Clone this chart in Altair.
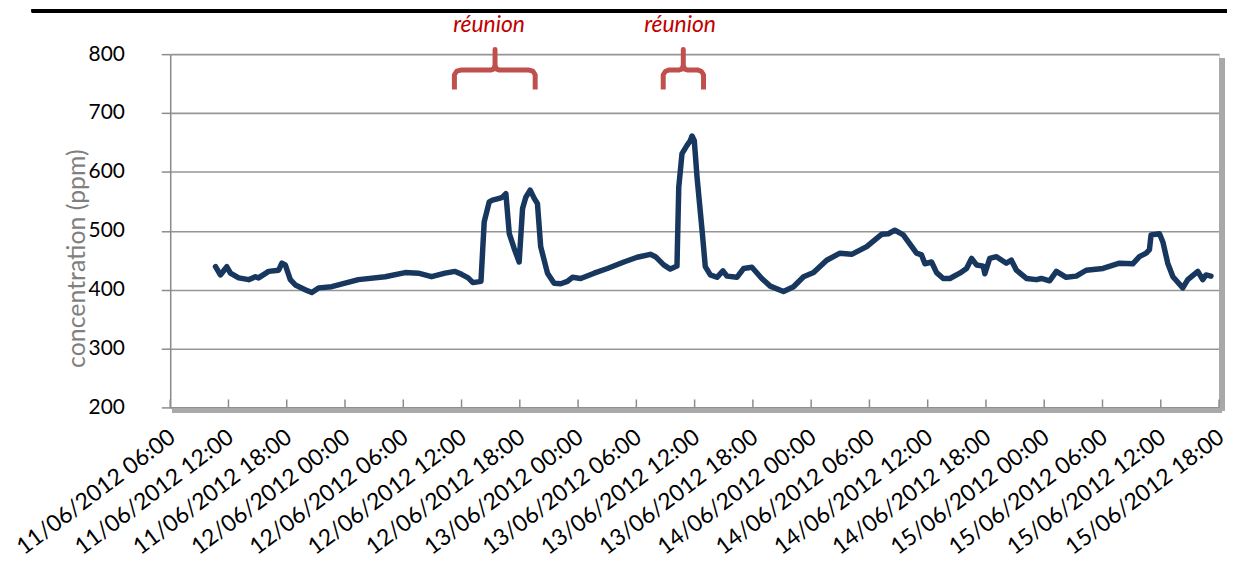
import altair as alt
import pandas as pd

# ---- CO2 concentration series ----
times = [
    "2012-06-11T10:40", "2012-06-11T11:10", "2012-06-11T11:50", "2012-06-11T12:12", "2012-06-11T13:03",
    "2012-06-11T14:05", "2012-06-11T14:46", "2012-06-11T15:06", "2012-06-11T16:08", "2012-06-11T17:10",
    "2012-06-11T17:30", "2012-06-11T17:51", "2012-06-11T18:22", "2012-06-11T18:53", "2012-06-11T19:54",
    "2012-06-11T20:35", "2012-06-11T21:17", "2012-06-11T22:38",
    "2012-06-12T01:23", "2012-06-12T04:08", "2012-06-12T06:11", "2012-06-12T07:33", "2012-06-12T08:55",
    "2012-06-12T10:18", "2012-06-12T11:20", "2012-06-12T12:00", "2012-06-12T12:41", "2012-06-12T13:10",
    "2012-06-12T14:00", "2012-06-12T14:20", "2012-06-12T14:51", "2012-06-12T15:11", "2012-06-12T15:53",
    "2012-06-12T16:13", "2012-06-12T16:34", "2012-06-12T16:55", "2012-06-12T17:25", "2012-06-12T17:56",
    "2012-06-12T18:17", "2012-06-12T18:37", "2012-06-12T19:04", "2012-06-12T19:29", "2012-06-12T19:49",
    "2012-06-12T20:09", "2012-06-12T20:51", "2012-06-12T21:32", "2012-06-12T22:13", "2012-06-12T22:54",
    "2012-06-12T23:25",
    "2012-06-13T00:16", "2012-06-13T01:39", "2012-06-13T03:01", "2012-06-13T04:43", "2012-06-13T06:05",
    "2012-06-13T07:27", "2012-06-13T07:58", "2012-06-13T08:49", "2012-06-13T09:30", "2012-06-13T10:11",
    "2012-06-13T10:22", "2012-06-13T10:42", "2012-06-13T11:13", "2012-06-13T11:33", "2012-06-13T11:44",
    "2012-06-13T11:58", "2012-06-13T12:15", "2012-06-13T12:46", "2012-06-13T13:06", "2012-06-13T13:37",
    "2012-06-13T14:18", "2012-06-13T14:55", "2012-06-13T15:20", "2012-06-13T16:21", "2012-06-13T17:03",
    "2012-06-13T17:54", "2012-06-13T18:55", "2012-06-13T19:47", "2012-06-13T21:09", "2012-06-13T22:11",
    "2012-06-13T23:13",
    "2012-06-14T00:15", "2012-06-14T01:36", "2012-06-14T02:58", "2012-06-14T04:10", "2012-06-14T05:43",
    "2012-06-14T07:15", "2012-06-14T07:57", "2012-06-14T08:37", "2012-06-14T09:29", "2012-06-14T10:51",
    "2012-06-14T11:22", "2012-06-14T11:43", "2012-06-14T12:24", "2012-06-14T12:55", "2012-06-14T13:36",
    "2012-06-14T14:17", "2012-06-14T15:18", "2012-06-14T16:00", "2012-06-14T16:31", "2012-06-14T17:02",
    "2012-06-14T17:43", "2012-06-14T17:53", "2012-06-14T18:23", "2012-06-14T19:05", "2012-06-14T20:06",
    "2012-06-14T20:37", "2012-06-14T21:08", "2012-06-14T22:10", "2012-06-14T23:12", "2012-06-14T23:42",
    "2012-06-15T00:33", "2012-06-15T01:15", "2012-06-15T02:16", "2012-06-15T03:18", "2012-06-15T04:19",
    "2012-06-15T06:03", "2012-06-15T07:45", "2012-06-15T09:07", "2012-06-15T09:48", "2012-06-15T10:30",
    "2012-06-15T10:50", "2012-06-15T11:00", "2012-06-15T11:31", "2012-06-15T11:52", "2012-06-15T12:13",
    "2012-06-15T12:43", "2012-06-15T13:15", "2012-06-15T14:16", "2012-06-15T14:47", "2012-06-15T15:49",
    "2012-06-15T16:19", "2012-06-15T16:40", "2012-06-15T17:10",
]
ppm = [
    439, 425, 439, 428, 420, 417, 422, 420, 431, 433, 445, 442, 417, 408, 400, 395, 403, 405,
    417, 422, 429, 428, 422, 428, 431, 426, 420, 412, 414, 515, 549, 552, 555, 557, 563, 495,
    470, 447, 538, 557, 569, 555, 546, 473, 428, 411, 410, 414, 421,
    419, 428, 436, 447, 455, 460, 456, 442, 435, 440, 574, 631, 645, 653, 661, 653, 591, 501,
    439, 425, 421, 432, 423, 421, 436, 438, 419, 406, 397, 405, 422,
    429, 450, 462, 460, 473, 494, 495, 501, 493, 462, 459, 444, 447, 429, 419, 419, 428, 436,
    453, 442, 440, 427, 453, 456, 445, 450, 433, 419, 417, 419,
    415, 431, 421, 423, 433, 436, 445, 444, 456, 462, 468, 493, 494, 495, 481, 445, 422, 403,
    417, 431, 417, 425, 423,
]

# ---- x-axis tick times (every 6 hours) ----
tick_times = [
    "2012-06-11T06:00", "2012-06-11T12:00", "2012-06-11T18:00", "2012-06-12T00:00",
    "2012-06-12T06:00", "2012-06-12T12:00", "2012-06-12T18:00", "2012-06-13T00:00",
    "2012-06-13T06:00", "2012-06-13T12:00", "2012-06-13T18:00", "2012-06-14T00:00",
    "2012-06-14T06:00", "2012-06-14T12:00", "2012-06-14T18:00", "2012-06-15T00:00",
    "2012-06-15T06:00", "2012-06-15T12:00", "2012-06-15T18:00",
]
y_ticks = [200, 300, 400, 500, 600, 700, 800]

# ---- annotations ("réunion" braces) ----
note_labels = ["réunion", "réunion"]
note_times = ["2012-06-12T14:50", "2012-06-13T10:30"]
note_ppm = [849, 849]

brace1_times = ["2012-06-12T11:16", "2012-06-12T11:16", "2012-06-12T11:30", "2012-06-12T11:55",
                "2012-06-12T15:00", "2012-06-12T15:20", "2012-06-12T15:27", "2012-06-12T15:27",
                "2012-06-12T15:27", "2012-06-12T15:34", "2012-06-12T15:54", "2012-06-12T18:56",
                "2012-06-12T19:21", "2012-06-12T19:35", "2012-06-12T19:35"]
brace2_times = ["2012-06-13T08:46", "2012-06-13T08:46", "2012-06-13T09:00", "2012-06-13T09:20",
                "2012-06-13T10:25", "2012-06-13T10:43", "2012-06-13T10:50", "2012-06-13T10:50",
                "2012-06-13T10:50", "2012-06-13T10:57", "2012-06-13T11:15", "2012-06-13T12:21",
                "2012-06-13T12:41", "2012-06-13T12:55", "2012-06-13T12:55"]
brace_ppm = [740, 765, 771, 773, 773, 775, 781, 808, 781, 775, 773, 773, 771, 765, 740]


def dt(s):
    p = pd.Timestamp(s)
    return alt.DateTime(year=p.year, month=p.month, date=p.day, hours=p.hour, minutes=p.minute)


W, H = 1054, 355
FONT = "Lato"

series = pd.DataFrame({"t": times, "v": ppm})
ticks_df = pd.DataFrame({"t": tick_times})
notes_df = pd.DataFrame({"t": note_times, "v": note_ppm, "label": note_labels})
brace_df = pd.DataFrame({
    "t": brace1_times + brace2_times,
    "v": brace_ppm + brace_ppm,
    "brace": ["a"] * len(brace1_times) + ["b"] * len(brace2_times),
    "o": list(range(len(brace1_times))) + list(range(len(brace2_times))),
})

x_scale = alt.Scale(domain=[dt(tick_times[0]), dt(tick_times[-1])], nice=False)
y_scale = alt.Scale(domain=[200, 800], nice=False, zero=False)

x_axis = alt.Axis(
    values=[dt(s) for s in tick_times], format="%d/%m/%Y %H:%M", title=None,
    labelAngle=-37, labelAlign="right", labelBaseline="middle", labelPadding=27, labelOffset=2,
    labelFont=FONT, labelFontSize=23, labelColor="black", labelOverlap=False, labelFlush=False,
    labelBound=False, labelLimit=400,
    ticks=False, grid=False, domainColor="#8c8c8c", domainWidth=1.5,
)
y_axis = alt.Axis(
    values=y_ticks, title="concentration (ppm)", titleFont=FONT, titleFontSize=25,
    titleFontWeight="normal", titleColor="#7f7f7f", titleAngle=-90, titleX=-94, titleY=205,
    titleAlign="center", titleBaseline="middle",
    labelFont=FONT, labelFontSize=21, labelColor="black", labelPadding=37,
    tickSize=9, tickColor="#8c8c8c", tickWidth=1.5,
    grid=True, gridColor="#969696", gridWidth=1.6,
    domainColor="#8c8c8c", domainWidth=1.5,
)

line = alt.Chart(series).mark_line(
    color="#17375e", strokeWidth=5.5, strokeJoin="round", strokeCap="round"
).encode(
    x=alt.X("t:T", scale=x_scale, axis=x_axis),
    y=alt.Y("v:Q", scale=y_scale, axis=y_axis),
)

inner_ticks = alt.Chart(ticks_df).mark_rule(color="#8c8c8c", strokeWidth=1.5).encode(
    x="t:T", y=alt.value(H - 8), y2=alt.value(H)
)

braces = alt.Chart(brace_df).mark_line(
    color="#c0504d", strokeWidth=5, strokeJoin="round", strokeCap="butt", clip=False
).encode(
    x="t:T", y="v:Q", detail="brace:N", order="o:Q"
)

notes = alt.Chart(notes_df).mark_text(
    font=FONT, fontSize=23, fontStyle="italic", color="#c00000", clip=False
).encode(x="t:T", y="v:Q", text="label:N")

shadow_r = alt.Chart(ticks_df).mark_rule(color="#a8a8a8", strokeWidth=5, opacity=0.45).encode(
    x=alt.value(W + 3), y=alt.value(4), y2=alt.value(H + 3)
)
shadow_b = alt.Chart(ticks_df).mark_rule(color="#a8a8a8", strokeWidth=4, opacity=0.45).encode(
    x=alt.value(2), x2=alt.value(W + 3), y=alt.value(H + 3)
)
top_rule = alt.Chart(ticks_df).mark_rule(color="black", strokeWidth=3).encode(
    x=alt.value(-139), x2=alt.value(W + 10), y=alt.value(-43.5)
)

chart = alt.layer(
    shadow_r, shadow_b, line, inner_ticks, braces, notes, top_rule
).properties(
    width=W, height=H,
    autosize=alt.AutoSizeParams(type="none"),
    padding={"left": 163, "top": 45, "right": 8, "bottom": 160},
).configure_view(fill="#d9d9d9", strokeWidth=0).configure(background="white")

chart.save("out.html", embed_options={"renderer": "svg", "actions": False})
